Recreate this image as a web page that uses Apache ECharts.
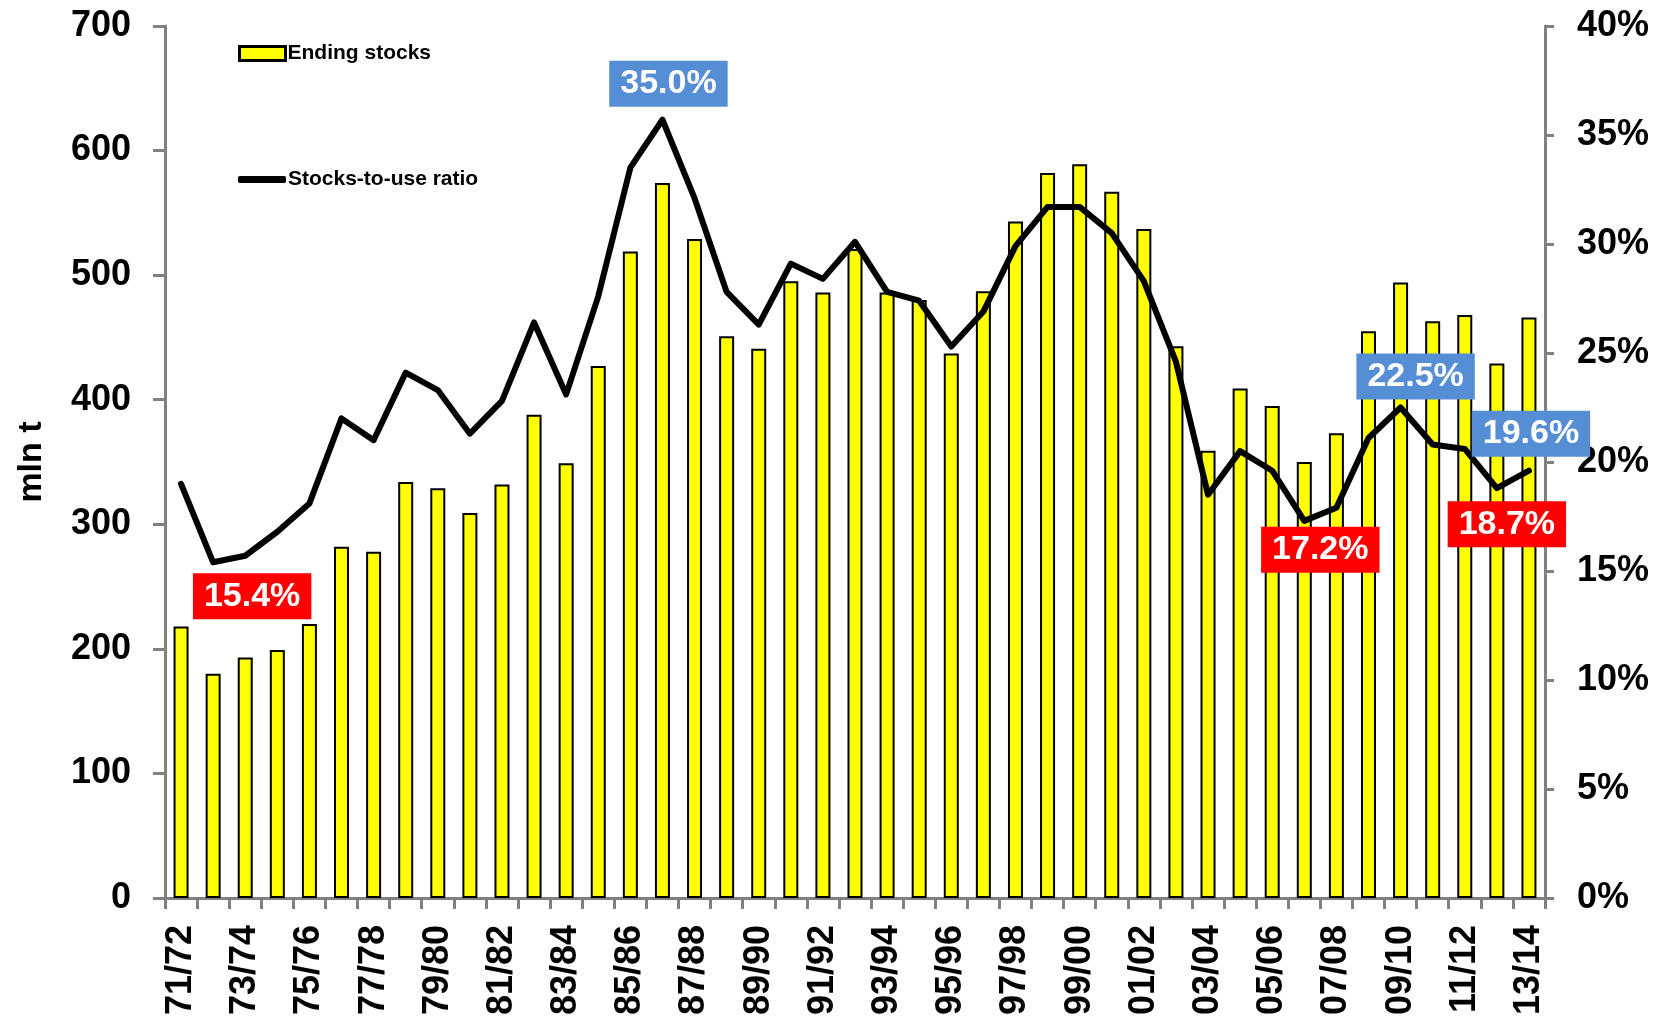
<!DOCTYPE html>
<html>
<head>
<meta charset="utf-8">
<title>Ending stocks and stocks-to-use ratio</title>
<script src="https://cdn.jsdelivr.net/npm/echarts@6/dist/echarts.min.js"></script>
<style>
  html, body { margin: 0; padding: 0; background: #fff; }
  #chart { width: 1664px; height: 1021px; }
</style>
</head>
<body>
<div id="chart"></div>
<script>
// marketing years
const years = [
  '71/72', '72/73', '73/74', '74/75', '75/76', '76/77', '77/78', '78/79', '79/80', '80/81',
  '81/82', '82/83', '83/84', '84/85', '85/86', '86/87', '87/88', '88/89', '89/90', '90/91',
  '91/92', '92/93', '93/94', '94/95', '95/96', '96/97', '97/98', '98/99', '99/00', '00/01',
  '01/02', '02/03', '03/04', '04/05', '05/06', '06/07', '07/08', '08/09', '09/10', '10/11',
  '11/12', '12/13', '13/14'
];

// ending stocks, mln t
const endingStocks = [
  218, 180, 193, 199, 220, 282, 278, 334, 329, 309,
  332, 388, 349, 427, 519, 574, 529, 451, 441, 495,
  486, 521, 486, 480, 437, 487, 543, 582, 589, 567,
  537, 443, 359, 409, 395, 350, 373, 455, 494, 463,
  468, 429, 466
];

// stocks-to-use ratio, %
const stocksToUse = [
  19.0, 15.4, 15.7, 16.8, 18.1, 22.0, 21.0, 24.1, 23.3, 21.3,
  22.8, 26.4, 23.1, 27.6, 33.5, 35.7, 32.1, 27.8, 26.3, 29.1,
  28.4, 30.1, 27.8, 27.4, 25.3, 26.9, 29.9, 31.7, 31.7, 30.5,
  28.3, 24.6, 18.5, 20.5, 19.6, 17.3, 17.9, 21.1, 22.5, 20.8,
  20.6, 18.8, 19.6
];

// highlighted ratio values (year, label)
const calloutYears = ['72/73', '86/87', '06/07', '09/10', '13/14', '12/13'];
const calloutTexts = ['15.4%', '35.0%', '17.2%', '22.5%', '19.6%', '18.7%'];

const leftTicks = { min: 0, max: 700, interval: 100 };
const rightTicks = { min: 0, max: 40, interval: 5 };

// box colour + offset from the point for each callout
const calloutStyle = {
  '15.4%': { color: '#ff0000', offset: [39, 34] },
  '35.0%': { color: '#558ed5', offset: [6, -36] },
  '17.2%': { color: '#ff0000', offset: [16, 29] },
  '22.5%': { color: '#558ed5', offset: [15, -31] },
  '19.6%': { color: '#558ed5', offset: [2, -37] },
  '18.7%': { color: '#ff0000', offset: [10, 36] }
};

const FONT = '"Liberation Sans", Arial, sans-serif';
const AXIS_GRAY = '#808080';

const markData = calloutYears.map((y, i) => {
  const idx = years.indexOf(y);
  const st = calloutStyle[calloutTexts[i]];
  return {
    coord: [y, stocksToUse[idx]],
    label: {
      formatter: calloutTexts[i],
      backgroundColor: st.color,
      offset: st.offset
    }
  };
});

const chart = echarts.init(document.getElementById('chart'));

const option = {
  animation: false,
  backgroundColor: '#fff',
  textStyle: { fontFamily: FONT },
  grid: { left: 165, right: 119, top: 26, bottom: 123, containLabel: false },
  legend: [
    {
      left: 233, top: 38, orient: 'vertical',
      itemWidth: 46, itemHeight: 14, itemGap: 4,
      data: [{ name: 'Ending stocks', icon: 'rect' }],
      itemStyle: { borderWidth: 3, borderColor: '#000' },
      textStyle: { fontSize: 21, fontWeight: 'bold', color: '#000', fontFamily: FONT, padding: [0, 0, 0, -3] }
    },
    {
      left: 233, top: 164, orient: 'vertical',
      itemWidth: 48, itemHeight: 7,
      data: [{ name: 'Stocks-to-use ratio', icon: 'roundRect' }],
      itemStyle: { color: '#000', borderWidth: 0 },
      textStyle: { fontSize: 21, fontWeight: 'bold', color: '#000', fontFamily: FONT, padding: [0, 0, 0, -3] }
    }
  ],
  xAxis: {
    type: 'category',
    data: years,
    boundaryGap: true,
    axisLine: { lineStyle: { color: AXIS_GRAY, width: 3 } },
    axisTick: { show: true, alignWithLabel: false, interval: 0, length: 11, lineStyle: { color: AXIS_GRAY, width: 3 } },
    axisLabel: {
      interval: 1,
      rotate: 90,
      margin: 27,
      color: '#000',
      fontSize: 36,
      fontWeight: 'bold',
      fontFamily: FONT
    },
    splitLine: { show: false }
  },
  yAxis: [
    {
      type: 'value',
      min: leftTicks.min, max: leftTicks.max, interval: leftTicks.interval,
      name: 'mln t',
      nameLocation: 'middle',
      nameRotate: 90,
      nameGap: 116,
      nameTextStyle: { fontSize: 34, fontWeight: 'bold', color: '#000', fontFamily: FONT },
      axisLine: { show: true, lineStyle: { color: AXIS_GRAY, width: 3 } },
      axisTick: { show: true, length: 12, lineStyle: { color: AXIS_GRAY, width: 3 } },
      axisLabel: { margin: 34, color: '#000', fontSize: 36, fontWeight: 'bold', fontFamily: FONT },
      splitLine: { show: false }
    },
    {
      type: 'value',
      position: 'right',
      min: rightTicks.min, max: rightTicks.max, interval: rightTicks.interval,
      axisLine: { show: true, lineStyle: { color: AXIS_GRAY, width: 3 } },
      axisTick: { show: true, length: 9, lineStyle: { color: AXIS_GRAY, width: 3 } },
      axisLabel: {
        margin: 32, color: '#000', fontSize: 36, fontWeight: 'bold', fontFamily: FONT,
        formatter: '{value}%'
      },
      splitLine: { show: false }
    }
  ],
  series: [
    {
      name: 'Ending stocks',
      type: 'bar',
      yAxisIndex: 0,
      barWidth: 15,
      data: endingStocks,
      itemStyle: { color: '#ffff00', borderColor: '#000', borderWidth: 2 },
      z: 2
    },
    {
      name: 'Stocks-to-use ratio',
      type: 'line',
      yAxisIndex: 1,
      data: stocksToUse,
      symbol: 'none',
      lineStyle: { color: '#000', width: 6, join: 'round', cap: 'round' },
      itemStyle: { color: '#000' },
      z: 3,
      markPoint: {
        symbol: 'rect',
        symbolSize: 1,
        itemStyle: { color: 'rgba(0,0,0,0)' },
        z: 10,
        label: {
          show: true,
          position: 'inside',
          color: '#fff',
          fontSize: 34,
          fontWeight: 'bold',
          fontFamily: FONT,
          lineHeight: 34,
          padding: [6, 11]
        },
        data: markData
      }
    }
  ]
};

chart.setOption(option);
</script>
</body>
</html>
